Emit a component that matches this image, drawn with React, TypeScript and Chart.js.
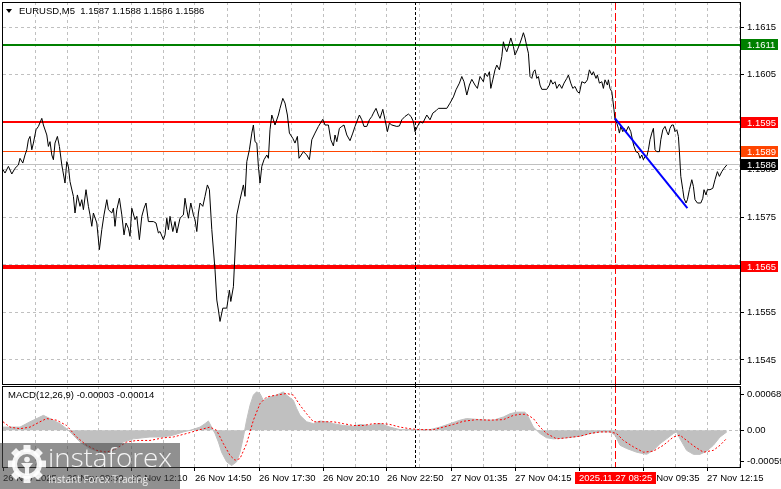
import React, { useEffect, useRef } from "react";
import { Chart, registerables } from "chart.js";

Chart.register(...registerables);

// ---------- header texts ----------
const symbolName = "EURUSD,M5";
const ohlcValues = [1.1587, 1.1588, 1.1586, 1.1586];
const macdTitle = "MACD(12,26,9)";
const macdReadout = [-0.00003, -0.00014];

// ---------- price series (bar index, close) ----------
const barIndex = [
  0, 1, 2.7, 4.4, 6, 7.7, 8.5, 9.9, 11, 11.9,
  12.7, 13.5, 14.4, 15.2, 16.5, 17.7, 19.4, 20.2, 21.9, 22.7,
  23.5, 24.4, 25.2, 26, 27.2, 28.2, 29.4, 31, 31.9, 32.7,
  33.5, 35.2, 36, 37.2, 38.5, 39.4, 40.2, 41.5, 42.7, 43.5,
  44.4, 45.2, 46.9, 48.2, 49.4, 50.5, 51.9, 52.7, 54.4, 55.2,
  56, 56.9, 58.2, 59.4, 60.5, 61.5, 62.7, 63.5, 64.4, 66,
  66.9, 68.2, 69.4, 70.5, 71.5, 72.7, 75.2, 76.5, 77.7, 78.5,
  80.2, 81, 81.9, 82.7, 83.5, 84.9, 86, 86.9, 88.5, 90.2,
  91, 91.9, 92.7, 93.9, 95.2, 96, 96.9, 97.7, 98.5, 99.9,
  101, 102.2, 103.2, 104.4, 106, 106.9, 107.7, 108.5, 109.9, 111.9,
  113.2, 113.9, 115.2, 116.9, 118.5, 120.2, 121, 121.9, 123.2, 124.4,
  125.2, 126, 126.9, 127.7, 128.5, 129.4, 130.5, 131.9, 132.7, 133.5,
  134.4, 135.2, 136, 137.7, 138.5, 139.9, 141, 142.2, 143.2, 144.9,
  146, 147.2, 148, 150.2, 151.9, 153.2, 154.4, 156, 157.7, 159.9,
  161, 162.7, 163.9, 165.2, 166, 166.9, 168.2, 169.4, 170.5, 171.9,
  173.5, 174.9, 176, 176.9, 178.2, 179.4, 180.5, 181.9, 183.2, 184.4,
  185.2, 186.5, 187.7, 188.5, 189.9, 191, 192.2, 193.2, 194.4, 196.9,
  198.2, 199.4, 201, 202.7, 204, 205.2, 206, 207.2, 208.5, 209.9,
  211.9, 213.5, 214.9, 216.5, 217.7, 221.9, 223.5, 225.2, 226.5, 228.2,
  229.4, 230.5, 231.9, 233.2, 234.4, 236, 237.2, 238.5, 240.2, 241,
  242.2, 243.2, 243.9, 244.9, 246, 246.9, 248.2, 249.4, 250.2, 251,
  251.9, 253.2, 253.9, 255.2, 256, 257.2, 258.5, 259.4, 260.2, 261,
  261.9, 262.7, 263.5, 264.4, 265.2, 266, 266.9, 267.7, 268.5, 269.4,
  271.9, 273.2, 273.9, 274.9, 276, 276.9, 278.2, 279.4, 280.5, 281.9,
  282.7, 283.9, 284.9, 286, 287.2, 288.2, 289.4, 291, 292.2, 293.2,
  294.4, 295.2, 296.5, 297.2, 298.2, 299.4, 300.2, 301, 302.2, 302.7,
  303.5, 304.4, 304.9, 305.5, 306, 306.9, 307.7, 308.2, 308.9, 309.9,
  310.5, 311.5, 312.7, 313.9, 314.9, 315.5, 316.5, 317.7, 318.5, 319.4,
  320.2, 321, 321.9, 322.7, 323.5, 324.4, 325.2, 326, 326.9, 328.2,
  328.9, 329.9, 331, 331.9, 332.7, 333.5, 334.4, 335.2, 336, 336.9,
  337.7, 338.2, 338.9, 339.9, 340.5, 341.5, 342.2, 343.2, 344.4, 345.2,
  346, 347.2, 348.9, 349.9, 350.5, 351.5, 352.2, 353.5, 354.9, 356,
  357.2, 358.2, 359.4, 360.5, 361.9,
];

const closePrice = [
  1.15850, 1.15843, 1.15857, 1.15841, 1.15853, 1.15860, 1.15874, 1.15864, 1.15881, 1.15892,
  1.15913, 1.15920, 1.15892, 1.15906, 1.15934, 1.15941, 1.15958, 1.15944, 1.15923, 1.15899,
  1.15909, 1.15881, 1.15871, 1.15906, 1.15920, 1.15899, 1.15860, 1.15822, 1.15867, 1.15857,
  1.15825, 1.15794, 1.15759, 1.15797, 1.15773, 1.15787, 1.15766, 1.15808, 1.15773, 1.15755,
  1.15731, 1.15759, 1.15738, 1.15682, 1.15724, 1.15755, 1.15787, 1.15766, 1.15759, 1.15769,
  1.15731, 1.15766, 1.15790, 1.15755, 1.15713, 1.15738, 1.15727, 1.15710, 1.15769, 1.15745,
  1.15752, 1.15703, 1.15752, 1.15769, 1.15780, 1.15741, 1.15741, 1.15738, 1.15717, 1.15720,
  1.15703, 1.15713, 1.15748, 1.15724, 1.15752, 1.15720, 1.15741, 1.15717, 1.15748, 1.15755,
  1.15790, 1.15766, 1.15748, 1.15780, 1.15755, 1.15745, 1.15720, 1.15759, 1.15780, 1.15773,
  1.15794, 1.15818, 1.15808, 1.15724, 1.15640, 1.15576, 1.15555, 1.15531, 1.15559, 1.15559,
  1.15597, 1.15573, 1.15604, 1.15755, 1.15787, 1.15818, 1.15794, 1.15867, 1.15892, 1.15927,
  1.15944, 1.15909, 1.15906, 1.15857, 1.15822, 1.15857, 1.15871, 1.15881, 1.15874, 1.15934,
  1.15965, 1.15955, 1.15944, 1.15965, 1.15979, 1.16000, 1.15990, 1.15965, 1.15927, 1.15916,
  1.15906, 1.15920, 1.15874, 1.15888, 1.15881, 1.15871, 1.15913, 1.15927, 1.15941, 1.15956,
  1.15944, 1.15944, 1.15913, 1.15900, 1.15923, 1.15909, 1.15937, 1.15941, 1.15944, 1.15923,
  1.15911, 1.15927, 1.15941, 1.15951, 1.15965, 1.15955, 1.15941, 1.15941, 1.15955, 1.15962,
  1.15969, 1.15979, 1.15965, 1.15958, 1.15977, 1.15955, 1.15930, 1.15948, 1.15944, 1.15941,
  1.15942, 1.15955, 1.15962, 1.15967, 1.15962, 1.15951, 1.15930, 1.15941, 1.15951, 1.15948,
  1.15965, 1.15955, 1.15969, 1.15974, 1.15979, 1.15979, 1.15990, 1.16003, 1.16018, 1.16032,
  1.16046, 1.16035, 1.16007, 1.16028, 1.16040, 1.16028, 1.16021, 1.16046, 1.16035, 1.16053,
  1.16046, 1.16056, 1.16021, 1.16039, 1.16060, 1.16070, 1.16060, 1.16088, 1.16119, 1.16106,
  1.16098, 1.16116, 1.16127, 1.16109, 1.16091, 1.16102, 1.16116, 1.16127, 1.16138, 1.16127,
  1.16109, 1.16095, 1.16046, 1.16042, 1.16056, 1.16060, 1.16042, 1.16046, 1.16028, 1.16019,
  1.16019, 1.16028, 1.16039, 1.16030, 1.16035, 1.16021, 1.16030, 1.16021, 1.16032, 1.16042,
  1.16049, 1.16032, 1.16021, 1.16025, 1.16014, 1.16011, 1.16035, 1.16032, 1.16039, 1.16060,
  1.16049, 1.16056, 1.16042, 1.16049, 1.16032, 1.16035, 1.16021, 1.16039, 1.16028, 1.16039,
  1.16021, 1.16014, 1.15997, 1.15976, 1.15955, 1.15948, 1.15937, 1.15927, 1.15941, 1.15930,
  1.15937, 1.15930, 1.15941, 1.15930, 1.15909, 1.15899, 1.15888, 1.15885, 1.15874, 1.15881,
  1.15871, 1.15878, 1.15878, 1.15892, 1.15913, 1.15927, 1.15937, 1.15892, 1.15888, 1.15888,
  1.15913, 1.15934, 1.15941, 1.15930, 1.15923, 1.15937, 1.15944, 1.15944, 1.15930, 1.15934,
  1.15920, 1.15888, 1.15836, 1.15808, 1.15790, 1.15780, 1.15787, 1.15808, 1.15829, 1.15815,
  1.15787, 1.15780, 1.15780, 1.15790, 1.15808, 1.15797, 1.15808, 1.15808, 1.15811, 1.15829,
  1.15846, 1.15836, 1.15846, 1.15853, 1.15860,
];

// ---------- trend line ----------
const trendBars = [306, 342.2];
const trendPrices = [1.15958, 1.15769];

// ---------- horizontal levels ----------
const levelPrices = [1.16113, 1.1595, 1.15888, 1.1586, 1.15646];
const levelColors = ["#008000", "#ff0000", "#ff4500", "#c0c0c0", "#ff0000"];
const levelWidths = [2, 2, 1, 1, 4];
const levelLabelBg = ["#008000", "#ff0000", "#ff4500", "#000000", "#ff0000"];

// ---------- MACD ----------
const histBars = [
  0, 8.5, 13.5, 20.2, 23.5, 28.5, 31.8, 34.3, 38.5, 43.5,
  48.5, 53.5, 56.8, 60.2, 65.2, 73.5, 80.2, 85.2, 90.2, 93.5,
  98.5, 101, 102.7, 104.3, 106, 107.7, 109.3, 111.8, 114.3, 116.8,
  118.5, 120.2, 121.8, 123.5, 125.2, 126.8, 128.5, 130.2, 133.5, 136.8,
  140.2, 141.8, 145.2, 146.8, 148.5, 151.8, 155.2, 158.5, 161.8, 165.2,
  170.2, 175.2, 178.5, 183.5, 188.5,
  193.5, 198.5, 205.2, 213.5, 218.5, 223.5, 228.5, 231.8, 238.5, 245.2,
  250.2, 253.5, 256.8, 261, 262.7, 265.2, 268.5, 271.8, 275.2, 281.8,
  288.5, 293.5, 298.5, 303.5, 306, 308.5, 311.8, 316.8, 321.8, 325.2,
  328.5, 331.8, 335.2, 336.8, 338.5, 341.8, 345.2, 348.5, 351.8, 355.2,
  358.5, 361.9,
];
const histValues = [
  0.00006, 0.00006, 0.00016, 0.00028, 0.00022, 0.000125, 0.00003, -0.00006, -0.00022, -0.00034,
  -0.00041, -0.00041, -0.00034, -0.00022, -0.00016, -0.000125, -0.000125, -0.00009, -0.00003, 0,
  0.00006, 0.000125, 0.000175, 0.00006, -0.00006, -0.00022, -0.00041, -0.00059, -0.00066, -0.00059,
  -0.00041, -0.000125, 0.00019, 0.00047, 0.00066, 0.00072, 0.00069, 0.00056, 0.000625, 0.00066,
  0.00072, 0.00066, 0.00056, 0.00041, 0.00028, 0.00016, 0.000125, 0.000175, 0.00016, 0.000125,
  0.00009, 0.000075, 0.00011, 0.00009, 0.00013,
  0.00006, 0.0000125, 0.0000125, 0.0000125, 0.00006, 0.000125, 0.00019, 0.00022, 0.0002, 0.00019,
  0.00025, 0.00031, 0.00034, 0.00034, 0.00025, 0.00006, -0.00006, -0.00014, -0.00016, -0.00014,
  -0.00011, -0.00006, -0.00003, -0.00003, -0.00009, -0.00028, -0.00034, -0.00041, -0.00045, -0.000375,
  -0.00025, -0.00016, -0.00006, -0.00003, -0.00016, -0.000375, -0.00045, -0.00045, -0.00039, -0.00028,
  -0.000125, -0.00003,
];
const signalBars = [
  0, 3.5, 8.5, 13.5, 18.5, 21.8, 26.8, 31.8, 36.8, 41.8,
  46.8, 51.8, 56.8, 61.8, 66.8, 73.5, 80.2, 85.2, 91.8, 98.5,
  103.5, 106.8, 110.2, 113.5, 116, 118.5, 121.8, 125.2, 128.5, 131.8,
  136.8, 141.8, 145.2, 148.5, 151.8, 155.2, 160.2, 165.2, 170.2, 175.2,
  180.2, 185.2, 190.2,
  193.5, 198.5, 203.5, 208.5, 215.2, 220.2, 225.2, 230.2, 236.8, 243.5,
  250.2, 255.2, 258.5, 261.8, 265.2, 268.5, 271.8, 276.8, 281.8, 288.5,
  293.5, 298.5, 303.5, 306.8, 310.2, 315.2, 320.2, 325.2, 330.2, 335.2,
  338.5, 341.8, 346, 350.2, 355.2, 358.5, 361.9,
];
const signalValues = [
  0.00016, 0.00006, 0.00003, 0.00006, 0.00016, 0.00022, 0.00019, 0.00009, -0.000125, -0.00028,
  -0.000375, -0.00041, -0.00034, -0.00022, -0.00019, -0.00019, -0.00014, -0.000125, -0.00006, 0.0000125,
  0.00006, 0, -0.00025, -0.00047, -0.00056, -0.00053, -0.00025, 0.00019, 0.0005, 0.000625,
  0.00066, 0.00069, 0.00066, 0.00047, 0.00031, 0.00016, 0.00016, 0.00016, 0.000125, 0.00009,
  0.00009, 0.000125, 0.000125,
  0.00011, 0.00006, 0.00003, 0.0000125, 0.0000125, 0.00006, 0.00011, 0.00017, 0.0002, 0.00019,
  0.0002, 0.00028, 0.0003, 0.0003, 0.00022, 0.00006, -0.00006, -0.00016, -0.00014, -0.00011,
  -0.00006, -0.00003, -0.00003, -0.00006, -0.00019, -0.00031, -0.00041, -0.00039, -0.00028, -0.000125,
  -0.00009, -0.00019, -0.00031, -0.00041, -0.000375, -0.00028, -0.00015,
];

// ---------- axes ----------
const priceTicks = [1.1615, 1.1605, 1.1595, 1.1585, 1.1575, 1.1565, 1.1555, 1.1545];
const priceMin = 1.153995;
const priceMax = 1.162026;
const macdTicks = [0.00068, 0, -0.00059];
const macdTickLabels = ["0.00068", "0.00", "-0.00059"];
const macdMin = -0.000687;
const macdMax = 0.00083;
const timeTickBars = [0, 32, 64, 96, 128, 160, 192, 224, 256, 288, 320, 352];
const timeLabels = [
  "26 Nov 2025", "26 Nov 09:30", "26 Nov 12:10", "26 Nov 14:50", "26 Nov 17:30", "26 Nov 20:10",
  "26 Nov 22:50", "27 Nov 01:35", "27 Nov 04:15", "27 Nov 06:55", "27 Nov 09:35", "27 Nov 12:15",
];
const xMaxBar = 368.5;
const gridStepBars = 16;
const dayBreakBar = 206.4;
const cursorBar = 306.2;
const cursorLabel = "2025.11.27 08:25";

const FONT = "'Liberation Sans', Arial, sans-serif";
const FS = 9.5;
const GRID = "#c0c0c0";

function pts(xs: number[], ys: number[]) {
  const n = Math.min(xs.length, ys.length);
  const out: { x: number; y: number }[] = [];
  for (let i = 0; i < n; i++) out.push({ x: xs[i], y: ys[i] });
  return out;
}

function vLine(ctx: CanvasRenderingContext2D, x: number, y0: number, y1: number) {
  ctx.beginPath();
  ctx.moveTo(x, y0);
  ctx.lineTo(x, y1);
  ctx.stroke();
}
function hLine(ctx: CanvasRenderingContext2D, x0: number, x1: number, y: number) {
  ctx.beginPath();
  ctx.moveTo(x0, y);
  ctx.lineTo(x1, y);
  ctx.stroke();
}

function drawVGrid(chart: any) {
  const { ctx, chartArea: a, scales } = chart;
  const x = scales.x;
  ctx.save();
  ctx.strokeStyle = GRID;
  ctx.lineWidth = 1;
  ctx.setLineDash([3, 3]);
  for (let b = gridStepBars; b < xMaxBar; b += gridStepBars) {
    const px = Math.floor(x.getPixelForValue(b)) + 0.5;
    vLine(ctx, px, a.top, a.bottom);
  }
  ctx.restore();
}

function drawMarkers(chart: any, y0: number, y1: number) {
  const { ctx, scales } = chart;
  const x = scales.x;
  ctx.save();
  ctx.lineWidth = 1;
  ctx.strokeStyle = "#000000";
  ctx.setLineDash([3, 2]);
  vLine(ctx, Math.floor(x.getPixelForValue(dayBreakBar)) + 0.5, y0, y1);
  ctx.strokeStyle = "#ff0000";
  ctx.setLineDash([8, 3]);
  vLine(ctx, Math.floor(x.getPixelForValue(cursorBar)) + 0.5, y0, y1);
  ctx.restore();
}

function drawFrame(chart: any) {
  const { ctx, chartArea: a } = chart;
  ctx.save();
  ctx.strokeStyle = "#000000";
  ctx.lineWidth = 1;
  ctx.setLineDash([]);
  ctx.strokeRect(a.left - 0.5, a.top + 0.5, a.right - a.left + 1, a.bottom - a.top);
  ctx.restore();
}

const mainPlugin = {
  id: "mainDecor",
  beforeDatasetsDraw(chart: any) {
    const { ctx, chartArea: a, scales } = chart;
    const y = scales.y;
    drawVGrid(chart);
    ctx.save();
    ctx.strokeStyle = GRID;
    ctx.lineWidth = 1;
    ctx.setLineDash([3, 3]);
    priceTicks.forEach((v) => {
      const py = Math.floor(y.getPixelForValue(v)) + 0.5;
      hLine(ctx, a.left, a.right, py);
    });
    ctx.setLineDash([]);
    levelPrices.forEach((p, i) => {
      const w = levelWidths[i];
      const yy = y.getPixelForValue(p);
      const py = w % 2 ? Math.floor(yy) + 0.5 : Math.round(yy);
      ctx.strokeStyle = levelColors[i];
      ctx.lineWidth = w;
      hLine(ctx, a.left, a.right, py);
    });
    ctx.restore();
    drawMarkers(chart, a.top, chart.height);
  },
  afterDraw(chart: any) {
    const { ctx, chartArea: a, scales } = chart;
    const y = scales.y;
    drawFrame(chart);
    ctx.save();
    // title
    ctx.fillStyle = "#000000";
    ctx.beginPath();
    ctx.moveTo(6, 9);
    ctx.lineTo(12, 9);
    ctx.lineTo(9, 13);
    ctx.closePath();
    ctx.fill();
    ctx.font = `${FS}px ${FONT}`;
    ctx.textBaseline = "middle";
    ctx.textAlign = "left";
    ctx.fillText(`${symbolName}  ${ohlcValues.map((v) => v.toFixed(4)).join(" ")}`, 19, 11);
    // price labels
    levelPrices.forEach((p, i) => {
      const yy = y.getPixelForValue(p);
      const top = Math.round(yy - 5.5);
      ctx.fillStyle = levelLabelBg[i];
      ctx.fillRect(a.right + 1, top, 37, 11);
      ctx.fillStyle = "#ffffff";
      ctx.fillText(p.toFixed(4), a.right + 7, top + 6);
    });
    ctx.restore();
  },
};

const macdPlugin = {
  id: "macdDecor",
  beforeDatasetsDraw(chart: any) {
    const { ctx, chartArea: a, scales } = chart;
    const y = scales.y;
    drawVGrid(chart);
    ctx.save();
    ctx.strokeStyle = GRID;
    ctx.lineWidth = 1;
    ctx.setLineDash([3, 3]);
    hLine(ctx, a.left, a.right, Math.floor(y.getPixelForValue(0)) + 0.5);
    ctx.restore();
    drawMarkers(chart, 0, a.bottom);
  },
  afterDraw(chart: any) {
    const { ctx, chartArea: a, scales } = chart;
    const x = scales.x;
    drawFrame(chart);
    ctx.save();
    ctx.font = `${FS}px ${FONT}`;
    ctx.textBaseline = "middle";
    ctx.textAlign = "left";
    ctx.fillStyle = "#000000";
    ctx.fillText(
      `${macdTitle} ${macdReadout.map((v) => v.toFixed(5)).join(" ")}`,
      8,
      a.top + 9
    );
    // cursor time label
    const cx = Math.floor(x.getPixelForValue(cursorBar)) + 0.5;
    const tw = ctx.measureText(cursorLabel).width;
    const bw = Math.round(tw + 8);
    const bx = Math.round(cx - bw / 2);
    const by = a.bottom + 5;
    ctx.fillStyle = "#ff0000";
    ctx.fillRect(bx, by, bw, 12);
    ctx.fillStyle = "#ffffff";
    ctx.fillText(cursorLabel, bx + 4, by + 6.5);
    ctx.restore();
  },
};

export default function App() {
  const mainRef = useRef<HTMLCanvasElement | null>(null);
  const macdRef = useRef<HTMLCanvasElement | null>(null);

  useEffect(() => {
    if (!mainRef.current || !macdRef.current) return;
    const font = { family: FONT, size: FS };

    const mainChart = new Chart(mainRef.current, {
      type: "line",
      data: {
        datasets: [
          {
            data: pts(trendBars, trendPrices),
            borderColor: "#0000ff",
            borderWidth: 2,
            pointRadius: 0,
            tension: 0,
          },
          {
            data: pts(barIndex, closePrice),
            borderColor: "#000000",
            borderWidth: 1,
            pointRadius: 0,
            tension: 0,
          },
        ],
      },
      options: {
        animation: false,
        responsive: false,
        events: [],
        layout: { padding: { left: 3, top: 2, right: 0, bottom: 1 } },
        plugins: { legend: { display: false }, tooltip: { enabled: false } },
        scales: {
          x: { type: "linear", min: 0, max: xMaxBar, display: false },
          y: {
            type: "linear",
            position: "right",
            min: priceMin,
            max: priceMax,
            afterBuildTicks: (s: any) => {
              s.ticks = priceTicks.map((v) => ({ value: v }));
            },
            afterFit: (s: any) => {
              s.width = 41;
              s.paddingTop = 0;
              s.paddingBottom = 0;
            },
            ticks: {
              callback: (v: any) => Number(v).toFixed(4),
              color: "#000000",
              font,
              padding: 3,
              autoSkip: false,
            },
            grid: { drawOnChartArea: false, drawTicks: true, tickLength: 4, tickColor: "#000000", color: "#000000" },
            border: { display: false },
          },
        },
      } as any,
      plugins: [mainPlugin],
    });

    const macdChart = new Chart(macdRef.current, {
      type: "line",
      data: {
        datasets: [
          {
            data: pts(signalBars, signalValues),
            borderColor: "#ff0000",
            borderWidth: 1,
            borderDash: [2, 2],
            pointRadius: 0,
            tension: 0,
          },
          {
            data: pts(histBars, histValues),
            borderColor: "#c0c0c0",
            backgroundColor: "#c0c0c0",
            borderWidth: 1,
            pointRadius: 0,
            tension: 0,
            fill: "origin",
          },
        ],
      },
      options: {
        animation: false,
        responsive: false,
        events: [],
        layout: { padding: { left: 3, top: 1, right: 0, bottom: 0 } },
        plugins: { legend: { display: false }, tooltip: { enabled: false } },
        scales: {
          x: {
            type: "linear",
            position: "bottom",
            min: 0,
            max: xMaxBar,
            afterBuildTicks: (s: any) => {
              s.ticks = timeTickBars.map((v) => ({ value: v }));
            },
            afterFit: (s: any) => {
              s.height = 22;
              s.paddingLeft = 0;
              s.paddingRight = 0;
            },
            ticks: {
              callback: (_v: any, i: number) => timeLabels[i] ?? "",
              align: "start",
              maxRotation: 0,
              minRotation: 0,
              autoSkip: false,
              padding: 2,
              color: "#000000",
              font,
            },
            grid: { drawOnChartArea: false, drawTicks: true, tickLength: 4, tickColor: "#000000", color: "#000000" },
            border: { display: false },
          },
          y: {
            type: "linear",
            position: "right",
            min: macdMin,
            max: macdMax,
            afterBuildTicks: (s: any) => {
              s.ticks = macdTicks.map((v) => ({ value: v }));
            },
            afterFit: (s: any) => {
              s.width = 41;
              s.paddingTop = 0;
              s.paddingBottom = 0;
            },
            ticks: {
              callback: (_v: any, i: number) => macdTickLabels[i] ?? "",
              color: "#000000",
              font,
              padding: 3,
              autoSkip: false,
            },
            grid: { drawOnChartArea: false, drawTicks: true, tickLength: 4, tickColor: "#000000", color: "#000000" },
            border: { display: false },
          },
        },
      } as any,
      plugins: [macdPlugin],
    });

    return () => {
      mainChart.destroy();
      macdChart.destroy();
    };
  }, []);

  const teeth = [0, 45, 90, 135, 180, 225, 270, 315];

  return (
    <div style={{ position: "fixed", left: 0, top: 0, width: 781, height: 489, background: "#ffffff", overflow: "hidden" }}>
      <canvas ref={mainRef} width={781} height={385} style={{ position: "absolute", left: 0, top: 0, width: 781, height: 385 }} />
      <canvas ref={macdRef} width={781} height={104} style={{ position: "absolute", left: 0, top: 385, width: 781, height: 104 }} />
      <svg width={180} height={46} style={{ position: "absolute", left: 0, top: 443 }}>
        <rect x={0} y={0} width={180} height={46} fill="rgba(70,70,70,0.6)" />
        <g transform="translate(27,21)" fill="rgba(255,255,255,0.9)">
          {teeth.map((d) => (
            <rect key={d} x={-3.5} y={-19} width={7} height={7} transform={`rotate(${d})`} />
          ))}
          <circle r={12.5} fill="none" stroke="rgba(255,255,255,0.9)" strokeWidth={5} />
          <circle cx={0} cy={-4.5} r={2.8} />
          <path d="M-6 -1 L6 -1 L2 4 L2 11 L-2 11 L-2 4 Z" />
        </g>
        <text x={48} y={24} fontFamily="'Open Sans', sans-serif" fontWeight={300} fontSize={26} fill="rgba(255,255,255,0.9)" textLength={124} lengthAdjust="spacingAndGlyphs">
          instaforex
        </text>
        <text x={48} y={40} fontFamily="'Open Sans', sans-serif" fontSize={10} fill="rgba(255,255,255,0.85)" textLength={100} lengthAdjust="spacingAndGlyphs">
          Instant Forex Trading
        </text>
      </svg>
    </div>
  );
}
